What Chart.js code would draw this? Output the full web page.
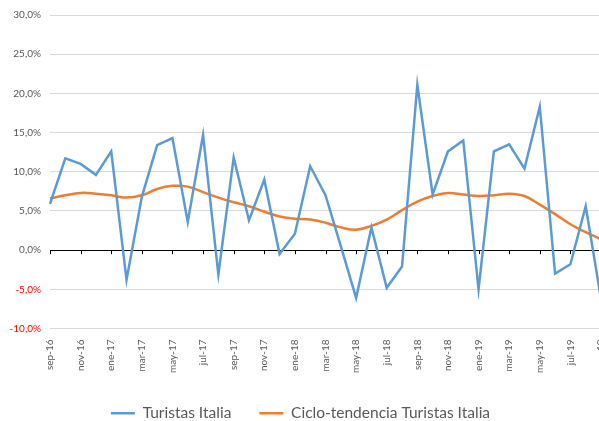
<!DOCTYPE html>
<html>
<head>
<meta charset="utf-8">
<script src="https://cdn.jsdelivr.net/npm/chart.js@4.4.0/dist/chart.umd.min.js"></script>
<style>
  body { margin: 0; overflow: hidden; background: #fff; }
  #wrap { width: 620px; height: 421px; }
</style>
</head>
<body>
<div id="wrap"><canvas id="chart"></canvas></div>
<script>
const months = [
  "sep-16", "oct-16", "nov-16", "dic-16", "ene-17", "feb-17", "mar-17", "abr-17",
  "may-17", "jun-17", "jul-17", "ago-17", "sep-17", "oct-17", "nov-17", "dic-17",
  "ene-18", "feb-18", "mar-18", "abr-18", "may-18", "jun-18", "jul-18", "ago-18",
  "sep-18", "oct-18", "nov-18", "dic-18", "ene-19", "feb-19", "mar-19", "abr-19",
  "may-19", "jun-19", "jul-19", "ago-19", "sep-19",
];

const turistas = [
  5.9, 11.7, 11.0, 9.6, 12.6, -3.8, 6.8, 13.4, 14.3, 3.6, 14.7, -3.1, 11.8, 3.8,
  9.0, -0.5, 2.1, 10.7, 7.0, 0.5, -6.1, 2.9, -4.8, -2.1, 21.1, 7.1, 12.6, 14.0,
  -5.0, 12.6, 13.5, 10.4, 18.3, -3.0, -1.8, 5.6, -6.2,
];

const cicloTendencia = [
  6.6, 7.0, 7.3, 7.2, 7.0, 6.7, 7.0, 7.8, 8.2, 8.1, 7.4, 6.7, 6.1, 5.6, 4.9, 4.3,
  4.0, 3.9, 3.5, 2.9, 2.6, 3.1, 3.9, 5.1, 6.2, 6.9, 7.3, 7.1, 6.9, 7.0, 7.2, 6.9,
  5.8, 4.6, 3.3, 2.3, 1.4,
];

const yMin = -10, yMax = 30, yStep = 5;

// short black tick marks hanging under the 0% line
const zeroTicks = {
  id: "zeroTicks",
  afterDatasetsDraw(chart) {
    const ctx = chart.ctx;
    const x = chart.scales.x;
    const y0 = chart.scales.y.getPixelForValue(0);
    ctx.save();
    ctx.strokeStyle = "#000";
    ctx.lineWidth = 1;
    ctx.beginPath();
    for (let i = 0; i < months.length; i += 2) {
      const px = Math.round(x.getPixelForValue(i)) + 0.5;
      ctx.moveTo(px, y0);
      ctx.lineTo(px, y0 + 4);
    }
    ctx.stroke();
    ctx.restore();
  },
};

new Chart(document.getElementById("chart"), {
  type: "line",
  data: {
    labels: months,
    datasets: [
      {
        label: "Turistas Italia",
        data: turistas,
        borderColor: "#5b9bd5",
        backgroundColor: "#5b9bd5",
        borderWidth: 2.5,
        pointRadius: 0,
        tension: 0,
      },
      {
        label: "Ciclo-tendencia Turistas Italia",
        data: cicloTendencia,
        borderColor: "#ed7d31",
        backgroundColor: "#ed7d31",
        borderWidth: 2.5,
        pointRadius: 0,
        tension: 0.4,
      },
    ],
  },
  options: {
    responsive: true,
    maintainAspectRatio: false,
    animation: false,
    layout: { padding: { top: 15, right: 19, left: 0, bottom: -10 } },
    plugins: {
      tooltip: { enabled: false },
      legend: {
        position: "bottom",
        labels: {
          usePointStyle: true,
          pointStyle: "line",
          pointStyleWidth: 24,
          padding: 28,
          color: "#595959",
          font: { family: "Lato", size: 15.5 },
        },
      },
    },
    scales: {
      x: {
        offset: false,
        grid: { display: false },
        border: { display: false },
        afterFit(scale) { scale.height = 49; },
        ticks: {
          autoSkip: false,
          maxRotation: 90,
          minRotation: 90,
          color: "#595959",
          font: { family: "Lato", size: 10 },
          callback(value, index) {
            return index % 2 === 0 ? months[index] : "";
          },
        },
      },
      y: {
        min: yMin,
        max: yMax,
        afterFit(scale) { scale.width = 50; },
        border: { display: false },
        grid: {
          drawTicks: false,
          color: (c) => (c.tick && c.tick.value === 0 ? "#000" : "#d9d9d9"),
          lineWidth: 1,
        },
        ticks: {
          stepSize: yStep,
          padding: 9,
          font: { family: "Lato", size: 10 },
          color: (c) => (c.tick && c.tick.value < 0 ? "#ff0000" : "#595959"),
          callback(value) {
            return value.toFixed(1).replace(".", ",") + "%";
          },
        },
      },
    },
  },
  plugins: [zeroTicks],
});
</script>
</body>
</html>
